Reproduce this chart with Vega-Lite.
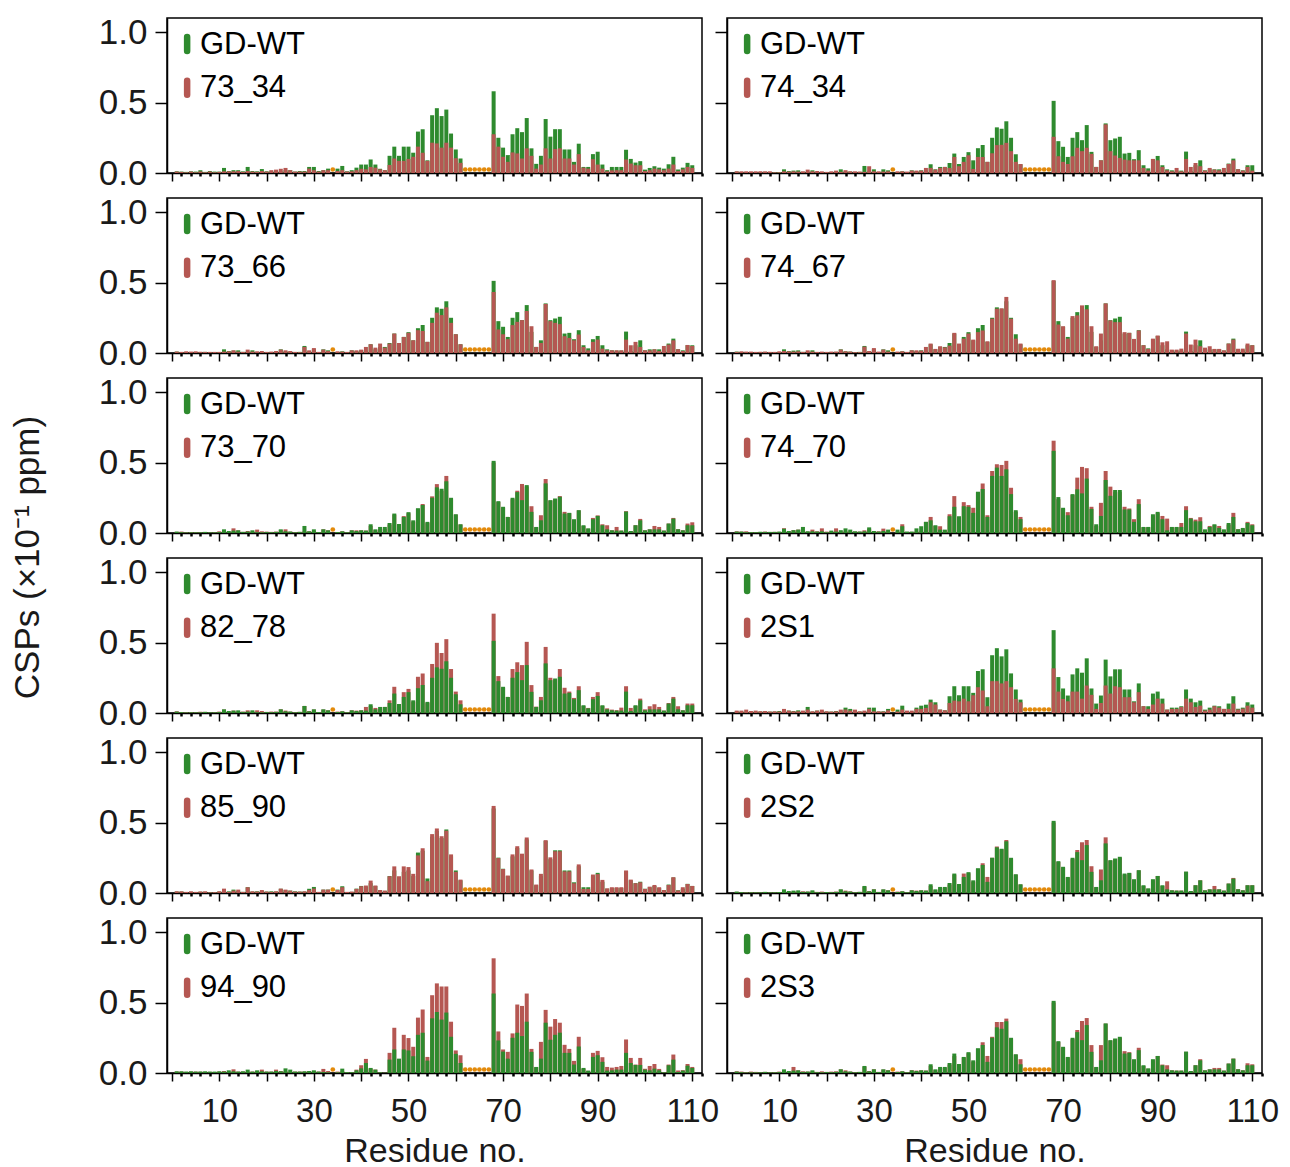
{
"$schema": "https://vega.github.io/schema/vega-lite/v6.json",
"padding": {"left": 10, "top": 14, "right": 5, "bottom": 0},
"title": {"text": "CSPs (×10⁻¹ ppm)", "orient": "left", "anchor": "middle", "offset": 52, "dx": 34, "fontSize": 35, "font": "Liberation Sans", "fontWeight": "normal", "color": "#1a1a1a"},
"datasets": {
"gaps": [{"r":34},{"r":62},{"r":63},{"r":64},{"r":65},{"r":66},{"r":67}],
"d": [
{"r":1,"g":0.01,"g1":0.012,"c1":0.01,"c2":0.012,"c3":0.01,"c4":0.008,"c5":0.008,"g6":0.01,"c6":0.012,"c7":0.012,"g8":0.012,"c8":0.017,"g9":0.01,"c9":0.012,"c10":0.008,"g11":0.012,"c11":0.01,"c12":0.012},
{"r":2,"g":0.006,"g1":0.01,"c1":0.008,"c2":0.012,"c3":0.008,"c4":0.012,"c5":0.01,"g6":0.01,"c6":0.01,"c7":0.006,"g8":0.01,"c8":0.017,"g9":0.01,"c9":0.012,"c10":0.005,"g11":0.012,"c11":0.01,"c12":0.01},
{"r":3,"g":0.004,"g1":0.008,"c1":0.005,"c2":0.012,"c3":0.012,"c4":0.01,"c5":0.005,"g6":0.006,"c6":0.012,"c7":0.005,"g8":0.01,"c8":0.024,"g9":0.005,"c9":0.008,"c10":0.005,"g11":0.01,"c11":0.008,"c12":0.006},
{"r":4,"g":0.005,"g1":0.012,"c1":0.01,"c2":0.012,"c3":0.01,"c4":0.01,"c5":0.006,"g6":0.006,"c6":0.006,"c7":0.006,"g8":0.01,"c8":0.014,"g9":0.008,"c9":0.012,"c10":0.006,"g11":0.012,"c11":0.01,"c12":0.01},
{"r":5,"g":0.005,"g1":0.01,"c1":0.005,"c2":0.012,"c3":0.012,"c4":0.008,"c5":0.005,"g6":0.006,"c6":0.006,"c7":0.005,"g8":0.01,"c8":0.017,"g9":0.006,"c9":0.008,"c10":0.005,"g11":0.01,"c11":0.01,"c12":0.008},
{"r":6,"g":0.005,"g1":0.02,"c1":0.01,"c2":0.012,"c3":0.008,"c4":0.008,"c5":0.006,"g6":0.008,"c6":0.006,"c7":0.008,"g8":0.01,"c8":0.012,"g9":0.008,"c9":0.01,"c10":0.006,"g11":0.01,"c11":0.008,"c12":0.006},
{"r":7,"g":0.008,"g1":0.008,"c1":0.005,"c2":0.012,"c3":0.008,"c4":0.01,"c5":0.006,"g6":0.008,"c6":0.01,"c7":0.008,"g8":0.012,"c8":0.014,"g9":0.008,"c9":0.012,"c10":0.006,"g11":0.012,"c11":0.008,"c12":0.008},
{"r":8,"g":0.005,"g1":0.014,"c1":0.01,"c2":0.012,"c3":0.008,"c4":0.008,"c5":0.005,"g6":0.008,"c6":0.005,"c7":0.004,"g8":0.01,"c8":0.01,"g9":0.006,"c9":0.005,"c10":0.005,"g11":0.01,"c11":0.008,"c12":0.006},
{"r":9,"g":0.005,"g1":0.01,"c1":0.005,"c2":0.005,"c3":0.008,"c4":0.008,"c5":0.005,"g6":0.008,"c6":0.008,"c7":0.005,"g8":0.01,"c8":0.012,"g9":0.005,"c9":0.006,"c10":0.004,"g11":0.01,"c11":0.006,"c12":0.006},
{"r":10,"g":0.007,"g1":0.01,"c1":0.008,"c2":0.005,"c3":0.008,"c4":0.012,"c5":0.012,"g6":0.01,"c6":0.008,"c7":0.01,"g8":0.014,"c8":0.01,"g9":0.01,"c9":0.012,"c10":0.006,"g11":0.012,"c11":0.01,"c12":0.01},
{"r":11,"g":0.026,"g1":0.036,"c1":0.012,"c2":0.012,"c3":0.01,"c4":0.014,"c5":0.014,"g6":0.03,"c6":0.034,"c7":0.024,"g8":0.02,"c8":0.029,"g9":0.026,"c9":0.031,"c10":0.012,"g11":0.01,"c11":0.014,"c12":0.012},
{"r":12,"g":0.014,"g1":0.014,"c1":0.012,"c2":0.01,"c3":0.012,"c4":0.012,"c5":0.008,"g6":0.014,"c6":0.012,"c7":0.01,"g8":0.017,"c8":0.017,"g9":0.012,"c9":0.008,"c10":0.008,"g11":0.019,"c11":0.01,"c12":0.01},
{"r":13,"g":0.017,"g1":0.02,"c1":0.012,"c2":0.012,"c3":0.019,"c4":0.01,"c5":0.033,"g6":0.02,"c6":0.02,"c7":0.017,"g8":0.014,"c8":0.012,"g9":0.024,"c9":0.017,"c10":0.012,"g11":0.012,"c11":0.026,"c12":0.043},
{"r":14,"g":0.019,"g1":0.02,"c1":0.014,"c2":0.01,"c3":0.01,"c4":0.012,"c5":0.019,"g6":0.024,"c6":0.024,"c7":0.01,"g8":0.019,"c8":0.012,"g9":0.014,"c9":0.024,"c10":0.01,"g11":0.01,"c11":0.01,"c12":0.019},
{"r":15,"g":0.008,"g1":0.012,"c1":0.008,"c2":0.012,"c3":0.008,"c4":0.008,"c5":0.008,"g6":0.043,"c6":0.02,"c7":0.01,"g8":0.01,"c8":0.017,"g9":0.008,"c9":0.008,"c10":0.012,"g11":0.012,"c11":0.01,"c12":0.012},
{"r":16,"g":0.01,"g1":0.043,"c1":0.014,"c2":0.024,"c3":0.024,"c4":0.019,"c5":0.014,"g6":0.012,"c6":0.01,"c7":0.019,"g8":0.043,"c8":0.024,"g9":0.041,"c9":0.041,"c10":0.01,"g11":0.024,"c11":0.01,"c12":0.01},
{"r":17,"g":0.019,"g1":0.014,"c1":0.01,"c2":0.012,"c3":0.01,"c4":0.01,"c5":0.01,"g6":0.012,"c6":0.024,"c7":0.01,"g8":0.01,"c8":0.012,"g9":0.01,"c9":0.012,"c10":0.012,"g11":0.01,"c11":0.01,"c12":0.012},
{"r":18,"g":0.006,"g1":0.012,"c1":0.008,"c2":0.014,"c3":0.012,"c4":0.008,"c5":0.024,"g6":0.01,"c6":0.012,"c7":0.019,"g8":0.017,"c8":0.017,"g9":0.012,"c9":0.01,"c10":0.008,"g11":0.019,"c11":0.014,"c12":0.008},
{"r":19,"g":0.005,"g1":0.028,"c1":0.014,"c2":0.012,"c3":0.014,"c4":0.01,"c5":0.012,"g6":0.012,"c6":0.033,"c7":0.014,"g8":0.014,"c8":0.024,"g9":0.015,"c9":0.021,"c10":0.01,"g11":0.012,"c11":0.024,"c12":0.012},
{"r":20,"g":0.007,"g1":0.012,"c1":0.01,"c2":0.008,"c3":0.008,"c4":0.008,"c5":0.01,"g6":0.006,"c6":0.01,"c7":0.008,"g8":0.01,"c8":0.012,"g9":0.01,"c9":0.01,"c10":0.006,"g11":0.01,"c11":0.01,"c12":0.008},
{"r":21,"g":0.006,"g1":0.012,"c1":0.02,"c2":0.012,"c3":0.01,"c4":0.01,"c5":0.008,"g6":0.017,"c6":0.012,"c7":0.01,"g8":0.01,"c8":0.01,"g9":0.012,"c9":0.008,"c10":0.008,"g11":0.01,"c11":0.01,"c12":0.01},
{"r":22,"g":0.008,"g1":0.014,"c1":0.024,"c2":0.017,"c3":0.014,"c4":0.01,"c5":0.01,"g6":0.01,"c6":0.033,"c7":0.01,"g8":0.014,"c8":0.012,"g9":0.01,"c9":0.012,"c10":0.01,"g11":0.014,"c11":0.024,"c12":0.012},
{"r":23,"g":0.026,"g1":0.012,"c1":0.03,"c2":0.008,"c3":0.024,"c4":0.024,"c5":0.02,"g6":0.02,"c6":0.012,"c7":0.026,"g8":0.017,"c8":0.024,"g9":0.03,"c9":0.031,"c10":0.024,"g11":0.012,"c11":0.014,"c12":0.026},
{"r":24,"g":0.012,"g1":0.02,"c1":0.036,"c2":0.02,"c3":0.019,"c4":0.012,"c5":0.026,"g6":0.033,"c6":0.012,"c7":0.017,"g8":0.038,"c8":0.024,"g9":0.02,"c9":0.024,"c10":0.017,"g11":0.033,"c11":0.012,"c12":0.019},
{"r":25,"g":0.01,"g1":0.02,"c1":0.02,"c2":0.012,"c3":0.014,"c4":0.01,"c5":0.01,"g6":0.024,"c6":0.012,"c7":0.01,"g8":0.029,"c8":0.017,"g9":0.017,"c9":0.017,"c10":0.012,"g11":0.024,"c11":0.01,"c12":0.01},
{"r":26,"g":0.005,"g1":0.01,"c1":0.01,"c2":0.012,"c3":0.008,"c4":0.006,"c5":0.006,"g6":0.012,"c6":0.01,"c7":0.006,"g8":0.01,"c8":0.024,"g9":0.012,"c9":0.01,"c10":0.006,"g11":0.01,"c11":0.01,"c12":0.006},
{"r":27,"g":0.008,"g1":0.014,"c1":0.01,"c2":0.01,"c3":0.006,"c4":0.006,"c5":0.008,"g6":0.01,"c6":0.01,"c7":0.008,"g8":0.01,"c8":0.012,"g9":0.01,"c9":0.01,"c10":0.008,"g11":0.01,"c11":0.01,"c12":0.006},
{"r":28,"g":0.05,"g1":0.014,"c1":0.01,"c2":0.008,"c3":0.043,"c4":0.045,"c5":0.012,"g6":0.012,"c6":0.019,"c7":0.05,"g8":0.01,"c8":0.017,"g9":0.01,"c9":0.012,"c10":0.045,"g11":0.012,"c11":0.01,"c12":0.045},
{"r":29,"g":0.012,"g1":0.043,"c1":0.031,"c2":0.048,"c3":0.019,"c4":0.014,"c5":0.012,"g6":0.04,"c6":0.03,"c7":0.014,"g8":0.038,"c8":0.029,"g9":0.03,"c9":0.021,"c10":0.014,"g11":0.014,"c11":0.014,"c12":0.014},
{"r":30,"g":0.026,"g1":0.043,"c1":0.02,"c2":0.012,"c3":0.035,"c4":0.035,"c5":0.014,"g6":0.014,"c6":0.012,"c7":0.024,"g8":0.038,"c8":0.012,"g9":0.043,"c9":0.031,"c10":0.026,"g11":0.019,"c11":0.012,"c12":0.026},
{"r":31,"g":0.007,"g1":0.014,"c1":0.01,"c2":0.012,"c3":0.008,"c4":0.01,"c5":0.007,"g6":0.01,"c6":0.012,"c7":0.007,"g8":0.01,"c8":0.012,"g9":0.007,"c9":0.008,"c10":0.008,"g11":0.01,"c11":0.01,"c12":0.008},
{"r":32,"g":0.026,"g1":0.02,"c1":0.02,"c2":0.01,"c3":0.024,"c4":0.024,"c5":0.026,"g6":0.014,"c6":0.031,"c7":0.024,"g8":0.012,"c8":0.01,"g9":0.024,"c9":0.024,"c10":0.024,"g11":0.007,"c11":0.029,"c12":0.024},
{"r":33,"g":0.019,"g1":0.031,"c1":0.02,"c2":0.012,"c3":0.014,"c4":0.01,"c5":0.019,"g6":0.024,"c6":0.012,"c7":0.019,"g8":0.029,"c8":0.019,"g9":0.024,"c9":0.024,"c10":0.019,"g11":0.005,"c11":0.014,"c12":0.02},
{"r":35,"g":0.007,"g1":0.031,"c1":0.014,"c2":0.012,"c3":0.012,"c4":0.01,"c5":0.007,"g6":0.024,"c6":0.01,"c7":0.01,"g8":0.024,"c8":0.01,"g9":0.024,"c9":0.022,"c10":0.01,"g11":0.005,"c11":0.01,"c12":0.01},
{"r":36,"g":0.012,"g1":0.05,"c1":0.02,"c2":0.012,"c3":0.01,"c4":0.012,"c5":0.012,"g6":0.048,"c6":0.062,"c7":0.012,"g8":0.052,"c8":0.024,"g9":0.048,"c9":0.041,"c10":0.012,"g11":0.031,"c11":0.012,"c12":0.012},
{"r":37,"g":0.005,"g1":0.012,"c1":0.01,"c2":0.01,"c3":0.008,"c4":0.008,"c5":0.005,"g6":0.01,"c6":0.008,"c7":0.006,"g8":0.01,"c8":0.017,"g9":0.006,"c9":0.008,"c10":0.005,"g11":0.006,"c11":0.006,"c12":0.006},
{"r":38,"g":0.019,"g1":0.02,"c1":0.012,"c2":0.017,"c3":0.019,"c4":0.019,"c5":0.019,"g6":0.01,"c6":0.008,"c7":0.019,"g8":0.01,"c8":0.017,"g9":0.008,"c9":0.01,"c10":0.02,"g11":0.006,"c11":0.006,"c12":0.02},
{"r":39,"g":0.014,"g1":0.038,"c1":0.02,"c2":0.017,"c3":0.019,"c4":0.019,"c5":0.019,"g6":0.033,"c6":0.01,"c7":0.017,"g8":0.038,"c8":0.029,"g9":0.031,"c9":0.029,"c10":0.017,"g11":0.019,"c11":0.024,"c12":0.017},
{"r":40,"g":0.019,"g1":0.06,"c1":0.03,"c2":0.017,"c3":0.024,"c4":0.017,"c5":0.019,"g6":0.048,"c6":0.012,"c7":0.019,"g8":0.052,"c8":0.029,"g9":0.05,"c9":0.048,"c10":0.019,"g11":0.033,"c11":0.055,"c12":0.019},
{"r":41,"g":0.017,"g1":0.06,"c1":0.026,"c2":0.036,"c3":0.043,"c4":0.043,"c5":0.017,"g6":0.079,"c6":0.079,"c7":0.043,"g8":0.059,"c8":0.036,"g9":0.045,"c9":0.053,"c10":0.017,"g11":0.071,"c11":0.1,"c12":0.017},
{"r":42,"g":0.062,"g1":0.096,"c1":0.043,"c2":0.036,"c3":0.062,"c4":0.067,"c5":0.05,"g6":0.09,"c6":0.114,"c7":0.05,"g8":0.095,"c8":0.076,"g9":0.07,"c9":0.088,"c10":0.05,"g11":0.036,"c11":0.03,"c12":0.05},
{"r":43,"g":0.026,"g1":0.06,"c1":0.038,"c2":0.024,"c3":0.038,"c4":0.029,"c5":0.02,"g6":0.055,"c6":0.05,"c7":0.036,"g8":0.076,"c8":0.06,"g9":0.05,"c9":0.053,"c10":0.02,"g11":0.024,"c11":0.024,"c12":0.02},
{"r":44,"g":0.043,"g1":0.03,"c1":0.026,"c2":0.036,"c3":0.067,"c4":0.048,"c5":0.03,"g6":0.024,"c6":0.048,"c7":0.03,"g8":0.024,"c8":0.024,"g9":0.02,"c9":0.021,"c10":0.035,"g11":0.005,"c11":0.005,"c12":0.035},
{"r":45,"g":0.043,"g1":0.02,"c1":0.02,"c2":0.043,"c3":0.038,"c4":0.04,"c5":0.03,"g6":0.024,"c6":0.02,"c7":0.043,"g8":0.019,"c8":0.019,"g9":0.015,"c9":0.017,"c10":0.035,"g11":0.002,"c11":0.002,"c12":0.035},
{"r":46,"g":0.071,"g1":0.122,"c1":0.057,"c2":0.036,"c3":0.067,"c4":0.052,"c5":0.06,"g6":0.119,"c6":0.133,"c7":0.09,"g8":0.119,"c8":0.071,"g9":0.12,"c9":0.119,"c10":0.06,"g11":0.095,"c11":0.143,"c12":0.06},
{"r":47,"g":0.138,"g1":0.187,"c1":0.103,"c2":0.114,"c3":0.138,"c4":0.143,"c5":0.13,"g6":0.186,"c6":0.262,"c7":0.186,"g8":0.19,"c8":0.088,"g9":0.16,"c9":0.189,"c10":0.13,"g11":0.167,"c11":0.321,"c12":0.12},
{"r":48,"g":0.064,"g1":0.122,"c1":0.086,"c2":0.048,"c3":0.071,"c4":0.067,"c5":0.05,"g6":0.119,"c6":0.1,"c7":0.05,"g8":0.126,"c8":0.083,"g9":0.11,"c9":0.119,"c10":0.05,"g11":0.102,"c11":0.09,"c12":0.05},
{"r":49,"g":0.114,"g1":0.187,"c1":0.086,"c2":0.079,"c3":0.114,"c4":0.102,"c5":0.12,"g6":0.19,"c6":0.219,"c7":0.148,"g8":0.19,"c8":0.102,"g9":0.15,"c9":0.189,"c10":0.138,"g11":0.167,"c11":0.271,"c12":0.11},
{"r":50,"g":0.148,"g1":0.187,"c1":0.1,"c2":0.126,"c3":0.143,"c4":0.138,"c5":0.14,"g6":0.186,"c6":0.198,"c7":0.171,"g8":0.19,"c8":0.083,"g9":0.16,"c9":0.184,"c10":0.14,"g11":0.16,"c11":0.248,"c12":0.14},
{"r":51,"g":0.09,"g1":0.144,"c1":0.115,"c2":0.029,"c3":0.09,"c4":0.095,"c5":0.08,"g6":0.143,"c6":0.179,"c7":0.08,"g8":0.143,"c8":0.126,"g9":0.12,"c9":0.136,"c10":0.08,"g11":0.119,"c11":0.186,"c12":0.08},
{"r":52,"g":0.176,"g1":0.294,"c1":0.187,"c2":0.114,"c3":0.162,"c4":0.148,"c5":0.17,"g6":0.293,"c6":0.29,"c7":0.257,"g8":0.298,"c8":0.183,"g9":0.287,"c9":0.267,"c10":0.17,"g11":0.271,"c11":0.393,"c12":0.17},
{"r":53,"g":0.198,"g1":0.311,"c1":0.144,"c2":0.114,"c3":0.157,"c4":0.16,"c5":0.205,"g6":0.312,"c6":0.352,"c7":0.281,"g8":0.31,"c8":0.16,"g9":0.3,"c9":0.317,"c10":0.212,"g11":0.286,"c11":0.45,"c12":0.219},
{"r":54,"g":0.079,"g1":0.09,"c1":0.086,"c2":0.079,"c3":0.079,"c4":0.083,"c5":0.07,"g6":0.114,"c6":0.126,"c7":0.07,"g8":0.112,"c8":0.048,"g9":0.103,"c9":0.084,"c10":0.114,"g11":0.088,"c11":0.114,"c12":0.121},
{"r":55,"g":0.25,"g1":0.41,"c1":0.215,"c2":0.14,"c3":0.214,"c4":0.243,"c5":0.26,"g6":0.405,"c6":0.44,"c7":0.348,"g8":0.41,"c8":0.226,"g9":0.4,"c9":0.418,"c10":0.25,"g11":0.388,"c11":0.552,"c12":0.257},
{"r":56,"g":0.324,"g1":0.46,"c1":0.21,"c2":0.198,"c3":0.286,"c4":0.314,"c5":0.347,"g6":0.464,"c6":0.488,"c7":0.498,"g8":0.46,"c8":0.226,"g9":0.44,"c9":0.458,"c10":0.33,"g11":0.433,"c11":0.636,"c12":0.362},
{"r":57,"g":0.314,"g1":0.404,"c1":0.18,"c2":0.2,"c3":0.269,"c4":0.317,"c5":0.3,"g6":0.405,"c6":0.483,"c7":0.426,"g8":0.402,"c8":0.21,"g9":0.39,"c9":0.403,"c10":0.31,"g11":0.379,"c11":0.614,"c12":0.362},
{"r":58,"g":0.367,"g1":0.45,"c1":0.215,"c2":0.214,"c3":0.324,"c4":0.398,"c5":0.405,"g6":0.452,"c6":0.512,"c7":0.524,"g8":0.452,"c8":0.226,"g9":0.451,"c9":0.442,"c10":0.376,"g11":0.429,"c11":0.614,"c12":0.386},
{"r":59,"g":0.25,"g1":0.28,"c1":0.18,"c2":0.155,"c3":0.214,"c4":0.243,"c5":0.24,"g6":0.276,"c6":0.321,"c7":0.312,"g8":0.281,"c8":0.183,"g9":0.26,"c9":0.274,"c10":0.24,"g11":0.257,"c11":0.364,"c12":0.24},
{"r":60,"g":0.133,"g1":0.167,"c1":0.105,"c2":0.079,"c3":0.133,"c4":0.102,"c5":0.13,"g6":0.162,"c6":0.15,"c7":0.152,"g8":0.167,"c8":0.1,"g9":0.16,"c9":0.15,"c10":0.13,"g11":0.136,"c11":0.16,"c12":0.13},
{"r":61,"g":0.062,"g1":0.103,"c1":0.072,"c2":0.064,"c3":0.062,"c4":0.067,"c5":0.06,"g6":0.098,"c6":0.114,"c7":0.09,"g8":0.095,"c8":0.076,"g9":0.09,"c9":0.095,"c10":0.06,"g11":0.071,"c11":0.126,"c12":0.098},
{"r":68,"g":0.512,"g1":0.58,"c1":0.275,"c2":0.257,"c3":0.433,"c4":0.517,"c5":0.5,"g6":0.583,"c6":0.655,"c7":0.705,"g8":0.588,"c8":0.317,"g9":0.6,"c9":0.618,"c10":0.5,"g11":0.564,"c11":0.814,"c12":0.5},
{"r":69,"g":0.226,"g1":0.25,"c1":0.187,"c2":0.119,"c3":0.167,"c4":0.202,"c5":0.22,"g6":0.255,"c6":0.24,"c7":0.262,"g8":0.255,"c8":0.152,"g9":0.251,"c9":0.248,"c10":0.22,"g11":0.231,"c11":0.295,"c12":0.22},
{"r":70,"g":0.186,"g1":0.18,"c1":0.115,"c2":0.079,"c3":0.133,"c4":0.19,"c5":0.18,"g6":0.179,"c6":0.17,"c7":0.18,"g8":0.174,"c8":0.1,"g9":0.172,"c9":0.17,"c10":0.18,"g11":0.152,"c11":0.167,"c12":0.18},
{"r":71,"g":0.114,"g1":0.127,"c1":0.079,"c2":0.064,"c3":0.098,"c4":0.102,"c5":0.114,"g6":0.126,"c6":0.148,"c7":0.114,"g8":0.124,"c8":0.083,"g9":0.12,"c9":0.124,"c10":0.11,"g11":0.102,"c11":0.15,"c12":0.11},
{"r":72,"g":0.25,"g1":0.275,"c1":0.146,"c2":0.119,"c3":0.198,"c4":0.262,"c5":0.24,"g6":0.276,"c6":0.27,"c7":0.312,"g8":0.274,"c8":0.152,"g9":0.26,"c9":0.274,"c10":0.24,"g11":0.25,"c11":0.281,"c12":0.24},
{"r":73,"g":0.29,"g1":0.318,"c1":0.139,"c2":0.179,"c3":0.221,"c4":0.267,"c5":0.3,"g6":0.31,"c6":0.393,"c7":0.36,"g8":0.317,"c8":0.152,"g9":0.32,"c9":0.332,"c10":0.305,"g11":0.286,"c11":0.486,"c12":0.305},
{"r":74,"g":0.233,"g1":0.29,"c1":0.103,"c2":0.155,"c3":0.233,"c4":0.338,"c5":0.348,"g6":0.281,"c6":0.469,"c7":0.34,"g8":0.286,"c8":0.102,"g9":0.27,"c9":0.279,"c10":0.36,"g11":0.262,"c11":0.476,"c12":0.369},
{"r":75,"g":0.34,"g1":0.39,"c1":0.175,"c2":0.179,"c3":0.298,"c4":0.31,"c5":0.33,"g6":0.386,"c6":0.46,"c7":0.505,"g8":0.388,"c8":0.195,"g9":0.38,"c9":0.394,"c10":0.376,"g11":0.364,"c11":0.564,"c12":0.39},
{"r":76,"g":0.15,"g1":0.175,"c1":0.122,"c2":0.136,"c3":0.19,"c4":0.19,"c5":0.19,"g6":0.171,"c6":0.186,"c7":0.198,"g8":0.174,"c8":0.129,"g9":0.16,"c9":0.167,"c10":0.19,"g11":0.15,"c11":0.171,"c12":0.198},
{"r":77,"g":0.043,"g1":0.065,"c1":0.031,"c2":0.043,"c3":0.043,"c4":0.048,"c5":0.04,"g6":0.062,"c6":0.05,"c7":0.045,"g8":0.067,"c8":0.029,"g9":0.055,"c9":0.06,"c10":0.04,"g11":0.043,"c11":0.04,"c12":0.04},
{"r":78,"g":0.09,"g1":0.122,"c1":0.06,"c2":0.09,"c3":0.071,"c4":0.138,"c5":0.126,"g6":0.121,"c6":0.214,"c7":0.114,"g8":0.124,"c8":0.071,"g9":0.12,"c9":0.136,"c10":0.167,"g11":0.102,"c11":0.221,"c12":0.198},
{"r":79,"g":0.352,"g1":0.383,"c1":0.175,"c2":0.345,"c3":0.348,"c4":0.352,"c5":0.383,"g6":0.376,"c6":0.44,"c7":0.469,"g8":0.379,"c8":0.195,"g9":0.37,"c9":0.375,"c10":0.395,"g11":0.357,"c11":0.448,"c12":0.35},
{"r":80,"g":0.233,"g1":0.258,"c1":0.103,"c2":0.155,"c3":0.226,"c4":0.231,"c5":0.23,"g6":0.264,"c6":0.329,"c7":0.25,"g8":0.26,"c8":0.138,"g9":0.24,"c9":0.253,"c10":0.23,"g11":0.236,"c11":0.329,"c12":0.23},
{"r":81,"g":0.245,"g1":0.311,"c1":0.17,"c2":0.124,"c3":0.214,"c4":0.219,"c5":0.24,"g6":0.305,"c6":0.29,"c7":0.233,"g8":0.31,"c8":0.19,"g9":0.303,"c9":0.296,"c10":0.24,"g11":0.271,"c11":0.383,"c12":0.24},
{"r":82,"g":0.257,"g1":0.311,"c1":0.175,"c2":0.107,"c3":0.205,"c4":0.219,"c5":0.262,"g6":0.305,"c6":0.29,"c7":0.312,"g8":0.31,"c8":0.183,"g9":0.303,"c9":0.296,"c10":0.25,"g11":0.286,"c11":0.357,"c12":0.25},
{"r":83,"g":0.138,"g1":0.167,"c1":0.103,"c2":0.095,"c3":0.119,"c4":0.148,"c5":0.15,"g6":0.167,"c6":0.186,"c7":0.179,"g8":0.167,"c8":0.112,"g9":0.16,"c9":0.153,"c10":0.13,"g11":0.143,"c11":0.2,"c12":0.155},
{"r":84,"g":0.143,"g1":0.167,"c1":0.103,"c2":0.09,"c3":0.107,"c4":0.143,"c5":0.14,"g6":0.167,"c6":0.174,"c7":0.152,"g8":0.167,"c8":0.112,"g9":0.16,"c9":0.153,"c10":0.14,"g11":0.143,"c11":0.171,"c12":0.148},
{"r":85,"g":0.098,"g1":0.079,"c1":0.06,"c2":0.09,"c3":0.09,"c4":0.1,"c5":0.09,"g6":0.079,"c6":0.098,"c7":0.107,"g8":0.083,"c8":0.076,"g9":0.076,"c9":0.069,"c10":0.09,"g11":0.06,"c11":0.086,"c12":0.09},
{"r":86,"g":0.162,"g1":0.208,"c1":0.134,"c2":0.09,"c3":0.131,"c4":0.16,"c5":0.16,"g6":0.205,"c6":0.24,"c7":0.19,"g8":0.21,"c8":0.148,"g9":0.19,"c9":0.203,"c10":0.16,"g11":0.188,"c11":0.257,"c12":0.179},
{"r":87,"g":0.055,"g1":0.043,"c1":0.038,"c2":0.036,"c3":0.043,"c4":0.055,"c5":0.05,"g6":0.043,"c6":0.04,"c7":0.05,"g8":0.048,"c8":0.048,"g9":0.041,"c9":0.029,"c10":0.05,"g11":0.036,"c11":0.03,"c12":0.05},
{"r":88,"g":0.033,"g1":0.043,"c1":0.031,"c2":0.017,"c3":0.019,"c4":0.029,"c5":0.03,"g6":0.043,"c6":0.04,"c7":0.036,"g8":0.048,"c8":0.029,"g9":0.041,"c9":0.029,"c10":0.03,"g11":0.017,"c11":0.015,"c12":0.03},
{"r":89,"g":0.098,"g1":0.134,"c1":0.098,"c2":0.1,"c3":0.079,"c4":0.102,"c5":0.107,"g6":0.133,"c6":0.12,"c7":0.114,"g8":0.138,"c8":0.06,"g9":0.12,"c9":0.131,"c10":0.09,"g11":0.114,"c11":0.143,"c12":0.09},
{"r":90,"g":0.121,"g1":0.151,"c1":0.06,"c2":0.09,"c3":0.095,"c4":0.124,"c5":0.125,"g6":0.15,"c6":0.14,"c7":0.148,"g8":0.152,"c8":0.102,"g9":0.143,"c9":0.134,"c10":0.12,"g11":0.126,"c11":0.157,"c12":0.12},
{"r":91,"g":0.055,"g1":0.06,"c1":0.031,"c2":0.043,"c3":0.031,"c4":0.076,"c5":0.062,"g6":0.098,"c6":0.121,"c7":0.05,"g8":0.102,"c8":0.067,"g9":0.08,"c9":0.093,"c10":0.05,"g11":0.079,"c11":0.112,"c12":0.06},
{"r":92,"g":0.026,"g1":0.02,"c1":0.012,"c2":0.019,"c3":0.019,"c4":0.083,"c5":0.055,"g6":0.019,"c6":0.102,"c7":0.033,"g8":0.024,"c8":0.024,"g9":0.03,"c9":0.033,"c10":0.083,"g11":0.017,"c11":0.043,"c12":0.055},
{"r":93,"g":0.019,"g1":0.043,"c1":0.019,"c2":0.012,"c3":0.019,"c4":0.024,"c5":0.019,"g6":0.043,"c6":0.04,"c7":0.024,"g8":0.038,"c8":0.029,"g9":0.035,"c9":0.041,"c10":0.019,"g11":0.019,"c11":0.038,"c12":0.019},
{"r":94,"g":0.017,"g1":0.043,"c1":0.02,"c2":0.036,"c3":0.019,"c4":0.024,"c5":0.043,"g6":0.043,"c6":0.04,"c7":0.02,"g8":0.038,"c8":0.029,"g9":0.035,"c9":0.041,"c10":0.017,"g11":0.024,"c11":0.043,"c12":0.017},
{"r":95,"g":0.017,"g1":0.043,"c1":0.02,"c2":0.012,"c3":0.019,"c4":0.031,"c5":0.017,"g6":0.043,"c6":0.071,"c7":0.038,"g8":0.048,"c8":0.043,"g9":0.035,"c9":0.041,"c10":0.017,"g11":0.024,"c11":0.05,"c12":0.017},
{"r":96,"g":0.152,"g1":0.165,"c1":0.096,"c2":0.1,"c3":0.095,"c4":0.138,"c5":0.155,"g6":0.162,"c6":0.19,"c7":0.19,"g8":0.167,"c8":0.102,"g9":0.155,"c9":0.16,"c10":0.15,"g11":0.143,"c11":0.238,"c12":0.15},
{"r":97,"g":0.014,"g1":0.1,"c1":0.067,"c2":0.043,"c3":0.055,"c4":0.06,"c5":0.014,"g6":0.102,"c6":0.107,"c7":0.036,"g8":0.102,"c8":0.076,"g9":0.09,"c9":0.095,"c10":0.014,"g11":0.071,"c11":0.107,"c12":0.014},
{"r":98,"g":0.055,"g1":0.074,"c1":0.055,"c2":0.071,"c3":0.079,"c4":0.095,"c5":0.055,"g6":0.083,"c6":0.095,"c7":0.05,"g8":0.076,"c8":0.043,"g9":0.07,"c9":0.069,"c10":0.055,"g11":0.057,"c11":0.06,"c12":0.055},
{"r":99,"g":0.09,"g1":0.084,"c1":0.055,"c2":0.048,"c3":0.043,"c4":0.048,"c5":0.1,"g6":0.083,"c6":0.112,"c7":0.102,"g8":0.088,"c8":0.052,"g9":0.08,"c9":0.076,"c10":0.09,"g11":0.057,"c11":0.107,"c12":0.098},
{"r":100,"g":0.019,"g1":0.024,"c1":0.014,"c2":0.017,"c3":0.019,"c4":0.038,"c5":0.019,"g6":0.026,"c6":0.02,"c7":0.026,"g8":0.024,"c8":0.017,"g9":0.03,"c9":0.029,"c10":0.019,"g11":0.024,"c11":0.03,"c12":0.019},
{"r":101,"g":0.026,"g1":0.036,"c1":0.02,"c2":0.036,"c3":0.019,"c4":0.048,"c5":0.026,"g6":0.043,"c6":0.05,"c7":0.048,"g8":0.038,"c8":0.024,"g9":0.04,"c9":0.045,"c10":0.026,"g11":0.019,"c11":0.05,"c12":0.026},
{"r":102,"g":0.026,"g1":0.048,"c1":0.031,"c2":0.024,"c3":0.026,"c4":0.029,"c5":0.05,"g6":0.062,"c6":0.055,"c7":0.062,"g8":0.052,"c8":0.048,"g9":0.05,"c9":0.057,"c10":0.05,"g11":0.031,"c11":0.064,"c12":0.036},
{"r":103,"g":0.026,"g1":0.038,"c1":0.026,"c2":0.019,"c3":0.014,"c4":0.029,"c5":0.043,"g6":0.036,"c6":0.05,"c7":0.043,"g8":0.048,"c8":0.038,"g9":0.035,"c9":0.041,"c10":0.026,"g11":0.019,"c11":0.029,"c12":0.036},
{"r":104,"g":0.017,"g1":0.031,"c1":0.02,"c2":0.036,"c3":0.05,"c4":0.019,"c5":0.017,"g6":0.026,"c6":0.02,"c7":0.017,"g8":0.029,"c8":0.029,"g9":0.02,"c9":0.021,"c10":0.017,"g11":0.005,"c11":0.005,"c12":0.017},
{"r":105,"g":0.067,"g1":0.062,"c1":0.031,"c2":0.064,"c3":0.06,"c4":0.067,"c5":0.067,"g6":0.071,"c6":0.06,"c7":0.071,"g8":0.067,"c8":0.029,"g9":0.06,"c9":0.057,"c10":0.067,"g11":0.055,"c11":0.06,"c12":0.067},
{"r":106,"g":0.102,"g1":0.115,"c1":0.06,"c2":0.09,"c3":0.09,"c4":0.095,"c5":0.107,"g6":0.114,"c6":0.143,"c7":0.114,"g8":0.119,"c8":0.067,"g9":0.11,"c9":0.112,"c10":0.107,"g11":0.095,"c11":0.131,"c12":0.102},
{"r":107,"g":0.026,"g1":0.024,"c1":0.014,"c2":0.026,"c3":0.026,"c4":0.031,"c5":0.026,"g6":0.026,"c6":0.026,"c7":0.048,"g8":0.031,"c8":0.024,"g9":0.02,"c9":0.017,"c10":0.026,"g11":0.007,"c11":0.017,"c12":0.026},
{"r":108,"g":0.019,"g1":0.038,"c1":0.026,"c2":0.017,"c3":0.014,"c4":0.031,"c5":0.019,"g6":0.036,"c6":0.03,"c7":0.019,"g8":0.038,"c8":0.031,"g9":0.03,"c9":0.041,"c10":0.019,"g11":0.017,"c11":0.02,"c12":0.019},
{"r":109,"g":0.055,"g1":0.072,"c1":0.043,"c2":0.043,"c3":0.057,"c4":0.067,"c5":0.067,"g6":0.071,"c6":0.079,"c7":0.067,"g8":0.076,"c8":0.052,"g9":0.065,"c9":0.064,"c10":0.055,"g11":0.052,"c11":0.064,"c12":0.069},
{"r":110,"g":0.055,"g1":0.055,"c1":0.036,"c2":0.017,"c3":0.05,"c4":0.055,"c5":0.076,"g6":0.055,"c6":0.062,"c7":0.067,"g8":0.06,"c8":0.038,"g9":0.05,"c9":0.05,"c10":0.055,"g11":0.036,"c11":0.043,"c12":0.062}
]
},
"spacing": 2,
"vconcat": [
{"hconcat": [
{"width": 535, "height": 155, "data": {"name": "d"}, "layer": [
 {"mark": {"type": "bar", "orient": "vertical", "width": 4, "color": "#2e8a2e"}, "encoding": {"x": {"field": "r", "type": "quantitative", "title": null, "scale": {"domain": [0, 111], "nice": false, "zero": false}, "axis": {"tickCount": 56, "labels": false, "title": null, "tickSize": {"condition": {"test": "datum.value % 10 === 0", "value": 8}, "value": 3}, "tickWidth": {"condition": {"test": "datum.value % 10 === 0", "value": 1.5}, "value": 2.5}}}, "y": {"field": "g1", "type": "quantitative", "title": null, "scale": {"domain": [0, 1.1], "nice": false}, "axis": {"tickCount": 3, "format": ".1f", "title": null}}}},
 {"mark": {"type": "bar", "orient": "vertical", "width": 4, "color": "#b55752"}, "encoding": {"x": {"field": "r", "type": "quantitative", "title": null}, "y": {"field": "c1", "type": "quantitative", "title": null}}},
 {"data": {"name": "gaps"}, "mark": {"type": "point", "filled": true, "size": 22, "color": "#e38a0a", "opacity": 1}, "encoding": {"x": {"field": "r", "type": "quantitative", "title": null}, "y": {"datum": 0.025}}},
 {"data": {"values": [{}]}, "mark": {"type": "rule", "strokeWidth": 6.5, "strokeCap": "round", "color": "#2e8a2e"}, "encoding": {"x": {"datum": 3.2}, "y": {"datum": 0.865}, "y2": {"datum": 0.965}}},
 {"data": {"values": [{}]}, "mark": {"type": "text", "text": "GD-WT", "align": "left", "baseline": "middle", "fontSize": 31, "color": "black"}, "encoding": {"x": {"datum": 5.9}, "y": {"datum": 0.91}}},
 {"data": {"values": [{}]}, "mark": {"type": "rule", "strokeWidth": 6.5, "strokeCap": "round", "color": "#b55752"}, "encoding": {"x": {"datum": 3.2}, "y": {"datum": 0.555}, "y2": {"datum": 0.655}}},
 {"data": {"values": [{}]}, "mark": {"type": "text", "text": "73_34", "align": "left", "baseline": "middle", "fontSize": 31, "color": "black"}, "encoding": {"x": {"datum": 5.9}, "y": {"datum": 0.6}}}
]},
{"width": 535, "height": 155, "data": {"name": "d"}, "layer": [
 {"mark": {"type": "bar", "orient": "vertical", "width": 4, "color": "#2e8a2e"}, "encoding": {"x": {"field": "r", "type": "quantitative", "title": null, "scale": {"domain": [0, 111], "nice": false, "zero": false}, "axis": {"tickCount": 56, "labels": false, "title": null, "tickSize": {"condition": {"test": "datum.value % 10 === 0", "value": 8}, "value": 3}, "tickWidth": {"condition": {"test": "datum.value % 10 === 0", "value": 1.5}, "value": 2.5}}}, "y": {"field": "g", "type": "quantitative", "title": null, "scale": {"domain": [0, 1.1], "nice": false}, "axis": {"tickCount": 3, "labels": false, "title": null}}}},
 {"mark": {"type": "bar", "orient": "vertical", "width": 4, "color": "#b55752"}, "encoding": {"x": {"field": "r", "type": "quantitative", "title": null}, "y": {"field": "c2", "type": "quantitative", "title": null}}},
 {"data": {"name": "gaps"}, "mark": {"type": "point", "filled": true, "size": 22, "color": "#e38a0a", "opacity": 1}, "encoding": {"x": {"field": "r", "type": "quantitative", "title": null}, "y": {"datum": 0.025}}},
 {"data": {"values": [{}]}, "mark": {"type": "rule", "strokeWidth": 6.5, "strokeCap": "round", "color": "#2e8a2e"}, "encoding": {"x": {"datum": 3.2}, "y": {"datum": 0.865}, "y2": {"datum": 0.965}}},
 {"data": {"values": [{}]}, "mark": {"type": "text", "text": "GD-WT", "align": "left", "baseline": "middle", "fontSize": 31, "color": "black"}, "encoding": {"x": {"datum": 5.9}, "y": {"datum": 0.91}}},
 {"data": {"values": [{}]}, "mark": {"type": "rule", "strokeWidth": 6.5, "strokeCap": "round", "color": "#b55752"}, "encoding": {"x": {"datum": 3.2}, "y": {"datum": 0.555}, "y2": {"datum": 0.655}}},
 {"data": {"values": [{}]}, "mark": {"type": "text", "text": "74_34", "align": "left", "baseline": "middle", "fontSize": 31, "color": "black"}, "encoding": {"x": {"datum": 5.9}, "y": {"datum": 0.6}}}
]}
], "spacing": 25, "bounds": "flush"},
{"hconcat": [
{"width": 535, "height": 155, "data": {"name": "d"}, "layer": [
 {"mark": {"type": "bar", "orient": "vertical", "width": 4, "color": "#2e8a2e"}, "encoding": {"x": {"field": "r", "type": "quantitative", "title": null, "scale": {"domain": [0, 111], "nice": false, "zero": false}, "axis": {"tickCount": 56, "labels": false, "title": null, "tickSize": {"condition": {"test": "datum.value % 10 === 0", "value": 8}, "value": 3}, "tickWidth": {"condition": {"test": "datum.value % 10 === 0", "value": 1.5}, "value": 2.5}}}, "y": {"field": "g", "type": "quantitative", "title": null, "scale": {"domain": [0, 1.1], "nice": false}, "axis": {"tickCount": 3, "format": ".1f", "title": null}}}},
 {"mark": {"type": "bar", "orient": "vertical", "width": 4, "color": "#b55752"}, "encoding": {"x": {"field": "r", "type": "quantitative", "title": null}, "y": {"field": "c3", "type": "quantitative", "title": null}}},
 {"data": {"name": "gaps"}, "mark": {"type": "point", "filled": true, "size": 22, "color": "#e38a0a", "opacity": 1}, "encoding": {"x": {"field": "r", "type": "quantitative", "title": null}, "y": {"datum": 0.025}}},
 {"data": {"values": [{}]}, "mark": {"type": "rule", "strokeWidth": 6.5, "strokeCap": "round", "color": "#2e8a2e"}, "encoding": {"x": {"datum": 3.2}, "y": {"datum": 0.865}, "y2": {"datum": 0.965}}},
 {"data": {"values": [{}]}, "mark": {"type": "text", "text": "GD-WT", "align": "left", "baseline": "middle", "fontSize": 31, "color": "black"}, "encoding": {"x": {"datum": 5.9}, "y": {"datum": 0.91}}},
 {"data": {"values": [{}]}, "mark": {"type": "rule", "strokeWidth": 6.5, "strokeCap": "round", "color": "#b55752"}, "encoding": {"x": {"datum": 3.2}, "y": {"datum": 0.555}, "y2": {"datum": 0.655}}},
 {"data": {"values": [{}]}, "mark": {"type": "text", "text": "73_66", "align": "left", "baseline": "middle", "fontSize": 31, "color": "black"}, "encoding": {"x": {"datum": 5.9}, "y": {"datum": 0.6}}}
]},
{"width": 535, "height": 155, "data": {"name": "d"}, "layer": [
 {"mark": {"type": "bar", "orient": "vertical", "width": 4, "color": "#2e8a2e"}, "encoding": {"x": {"field": "r", "type": "quantitative", "title": null, "scale": {"domain": [0, 111], "nice": false, "zero": false}, "axis": {"tickCount": 56, "labels": false, "title": null, "tickSize": {"condition": {"test": "datum.value % 10 === 0", "value": 8}, "value": 3}, "tickWidth": {"condition": {"test": "datum.value % 10 === 0", "value": 1.5}, "value": 2.5}}}, "y": {"field": "g", "type": "quantitative", "title": null, "scale": {"domain": [0, 1.1], "nice": false}, "axis": {"tickCount": 3, "labels": false, "title": null}}}},
 {"mark": {"type": "bar", "orient": "vertical", "width": 4, "color": "#b55752"}, "encoding": {"x": {"field": "r", "type": "quantitative", "title": null}, "y": {"field": "c4", "type": "quantitative", "title": null}}},
 {"data": {"name": "gaps"}, "mark": {"type": "point", "filled": true, "size": 22, "color": "#e38a0a", "opacity": 1}, "encoding": {"x": {"field": "r", "type": "quantitative", "title": null}, "y": {"datum": 0.025}}},
 {"data": {"values": [{}]}, "mark": {"type": "rule", "strokeWidth": 6.5, "strokeCap": "round", "color": "#2e8a2e"}, "encoding": {"x": {"datum": 3.2}, "y": {"datum": 0.865}, "y2": {"datum": 0.965}}},
 {"data": {"values": [{}]}, "mark": {"type": "text", "text": "GD-WT", "align": "left", "baseline": "middle", "fontSize": 31, "color": "black"}, "encoding": {"x": {"datum": 5.9}, "y": {"datum": 0.91}}},
 {"data": {"values": [{}]}, "mark": {"type": "rule", "strokeWidth": 6.5, "strokeCap": "round", "color": "#b55752"}, "encoding": {"x": {"datum": 3.2}, "y": {"datum": 0.555}, "y2": {"datum": 0.655}}},
 {"data": {"values": [{}]}, "mark": {"type": "text", "text": "74_67", "align": "left", "baseline": "middle", "fontSize": 31, "color": "black"}, "encoding": {"x": {"datum": 5.9}, "y": {"datum": 0.6}}}
]}
], "spacing": 25, "bounds": "flush"},
{"hconcat": [
{"width": 535, "height": 155, "data": {"name": "d"}, "layer": [
 {"mark": {"type": "bar", "orient": "vertical", "width": 4, "color": "#b55752"}, "encoding": {"x": {"field": "r", "type": "quantitative", "title": null, "scale": {"domain": [0, 111], "nice": false, "zero": false}, "axis": {"tickCount": 56, "labels": false, "title": null, "tickSize": {"condition": {"test": "datum.value % 10 === 0", "value": 8}, "value": 3}, "tickWidth": {"condition": {"test": "datum.value % 10 === 0", "value": 1.5}, "value": 2.5}}}, "y": {"field": "c5", "type": "quantitative", "title": null, "scale": {"domain": [0, 1.1], "nice": false}, "axis": {"tickCount": 3, "format": ".1f", "title": null}}}},
 {"mark": {"type": "bar", "orient": "vertical", "width": 4, "color": "#2e8a2e"}, "encoding": {"x": {"field": "r", "type": "quantitative", "title": null}, "y": {"field": "g", "type": "quantitative", "title": null}}},
 {"data": {"name": "gaps"}, "mark": {"type": "point", "filled": true, "size": 22, "color": "#e38a0a", "opacity": 1}, "encoding": {"x": {"field": "r", "type": "quantitative", "title": null}, "y": {"datum": 0.025}}},
 {"data": {"values": [{}]}, "mark": {"type": "rule", "strokeWidth": 6.5, "strokeCap": "round", "color": "#2e8a2e"}, "encoding": {"x": {"datum": 3.2}, "y": {"datum": 0.865}, "y2": {"datum": 0.965}}},
 {"data": {"values": [{}]}, "mark": {"type": "text", "text": "GD-WT", "align": "left", "baseline": "middle", "fontSize": 31, "color": "black"}, "encoding": {"x": {"datum": 5.9}, "y": {"datum": 0.91}}},
 {"data": {"values": [{}]}, "mark": {"type": "rule", "strokeWidth": 6.5, "strokeCap": "round", "color": "#b55752"}, "encoding": {"x": {"datum": 3.2}, "y": {"datum": 0.555}, "y2": {"datum": 0.655}}},
 {"data": {"values": [{}]}, "mark": {"type": "text", "text": "73_70", "align": "left", "baseline": "middle", "fontSize": 31, "color": "black"}, "encoding": {"x": {"datum": 5.9}, "y": {"datum": 0.6}}}
]},
{"width": 535, "height": 155, "data": {"name": "d"}, "layer": [
 {"mark": {"type": "bar", "orient": "vertical", "width": 4, "color": "#b55752"}, "encoding": {"x": {"field": "r", "type": "quantitative", "title": null, "scale": {"domain": [0, 111], "nice": false, "zero": false}, "axis": {"tickCount": 56, "labels": false, "title": null, "tickSize": {"condition": {"test": "datum.value % 10 === 0", "value": 8}, "value": 3}, "tickWidth": {"condition": {"test": "datum.value % 10 === 0", "value": 1.5}, "value": 2.5}}}, "y": {"field": "c6", "type": "quantitative", "title": null, "scale": {"domain": [0, 1.1], "nice": false}, "axis": {"tickCount": 3, "labels": false, "title": null}}}},
 {"mark": {"type": "bar", "orient": "vertical", "width": 4, "color": "#2e8a2e"}, "encoding": {"x": {"field": "r", "type": "quantitative", "title": null}, "y": {"field": "g6", "type": "quantitative", "title": null}}},
 {"data": {"name": "gaps"}, "mark": {"type": "point", "filled": true, "size": 22, "color": "#e38a0a", "opacity": 1}, "encoding": {"x": {"field": "r", "type": "quantitative", "title": null}, "y": {"datum": 0.025}}},
 {"data": {"values": [{}]}, "mark": {"type": "rule", "strokeWidth": 6.5, "strokeCap": "round", "color": "#2e8a2e"}, "encoding": {"x": {"datum": 3.2}, "y": {"datum": 0.865}, "y2": {"datum": 0.965}}},
 {"data": {"values": [{}]}, "mark": {"type": "text", "text": "GD-WT", "align": "left", "baseline": "middle", "fontSize": 31, "color": "black"}, "encoding": {"x": {"datum": 5.9}, "y": {"datum": 0.91}}},
 {"data": {"values": [{}]}, "mark": {"type": "rule", "strokeWidth": 6.5, "strokeCap": "round", "color": "#b55752"}, "encoding": {"x": {"datum": 3.2}, "y": {"datum": 0.555}, "y2": {"datum": 0.655}}},
 {"data": {"values": [{}]}, "mark": {"type": "text", "text": "74_70", "align": "left", "baseline": "middle", "fontSize": 31, "color": "black"}, "encoding": {"x": {"datum": 5.9}, "y": {"datum": 0.6}}}
]}
], "spacing": 25, "bounds": "flush"},
{"hconcat": [
{"width": 535, "height": 155, "data": {"name": "d"}, "layer": [
 {"mark": {"type": "bar", "orient": "vertical", "width": 4, "color": "#b55752"}, "encoding": {"x": {"field": "r", "type": "quantitative", "title": null, "scale": {"domain": [0, 111], "nice": false, "zero": false}, "axis": {"tickCount": 56, "labels": false, "title": null, "tickSize": {"condition": {"test": "datum.value % 10 === 0", "value": 8}, "value": 3}, "tickWidth": {"condition": {"test": "datum.value % 10 === 0", "value": 1.5}, "value": 2.5}}}, "y": {"field": "c7", "type": "quantitative", "title": null, "scale": {"domain": [0, 1.1], "nice": false}, "axis": {"tickCount": 3, "format": ".1f", "title": null}}}},
 {"mark": {"type": "bar", "orient": "vertical", "width": 4, "color": "#2e8a2e"}, "encoding": {"x": {"field": "r", "type": "quantitative", "title": null}, "y": {"field": "g", "type": "quantitative", "title": null}}},
 {"data": {"name": "gaps"}, "mark": {"type": "point", "filled": true, "size": 22, "color": "#e38a0a", "opacity": 1}, "encoding": {"x": {"field": "r", "type": "quantitative", "title": null}, "y": {"datum": 0.025}}},
 {"data": {"values": [{}]}, "mark": {"type": "rule", "strokeWidth": 6.5, "strokeCap": "round", "color": "#2e8a2e"}, "encoding": {"x": {"datum": 3.2}, "y": {"datum": 0.865}, "y2": {"datum": 0.965}}},
 {"data": {"values": [{}]}, "mark": {"type": "text", "text": "GD-WT", "align": "left", "baseline": "middle", "fontSize": 31, "color": "black"}, "encoding": {"x": {"datum": 5.9}, "y": {"datum": 0.91}}},
 {"data": {"values": [{}]}, "mark": {"type": "rule", "strokeWidth": 6.5, "strokeCap": "round", "color": "#b55752"}, "encoding": {"x": {"datum": 3.2}, "y": {"datum": 0.555}, "y2": {"datum": 0.655}}},
 {"data": {"values": [{}]}, "mark": {"type": "text", "text": "82_78", "align": "left", "baseline": "middle", "fontSize": 31, "color": "black"}, "encoding": {"x": {"datum": 5.9}, "y": {"datum": 0.6}}}
]},
{"width": 535, "height": 155, "data": {"name": "d"}, "layer": [
 {"mark": {"type": "bar", "orient": "vertical", "width": 4, "color": "#2e8a2e"}, "encoding": {"x": {"field": "r", "type": "quantitative", "title": null, "scale": {"domain": [0, 111], "nice": false, "zero": false}, "axis": {"tickCount": 56, "labels": false, "title": null, "tickSize": {"condition": {"test": "datum.value % 10 === 0", "value": 8}, "value": 3}, "tickWidth": {"condition": {"test": "datum.value % 10 === 0", "value": 1.5}, "value": 2.5}}}, "y": {"field": "g8", "type": "quantitative", "title": null, "scale": {"domain": [0, 1.1], "nice": false}, "axis": {"tickCount": 3, "labels": false, "title": null}}}},
 {"mark": {"type": "bar", "orient": "vertical", "width": 4, "color": "#b55752"}, "encoding": {"x": {"field": "r", "type": "quantitative", "title": null}, "y": {"field": "c8", "type": "quantitative", "title": null}}},
 {"data": {"name": "gaps"}, "mark": {"type": "point", "filled": true, "size": 22, "color": "#e38a0a", "opacity": 1}, "encoding": {"x": {"field": "r", "type": "quantitative", "title": null}, "y": {"datum": 0.025}}},
 {"data": {"values": [{}]}, "mark": {"type": "rule", "strokeWidth": 6.5, "strokeCap": "round", "color": "#2e8a2e"}, "encoding": {"x": {"datum": 3.2}, "y": {"datum": 0.865}, "y2": {"datum": 0.965}}},
 {"data": {"values": [{}]}, "mark": {"type": "text", "text": "GD-WT", "align": "left", "baseline": "middle", "fontSize": 31, "color": "black"}, "encoding": {"x": {"datum": 5.9}, "y": {"datum": 0.91}}},
 {"data": {"values": [{}]}, "mark": {"type": "rule", "strokeWidth": 6.5, "strokeCap": "round", "color": "#b55752"}, "encoding": {"x": {"datum": 3.2}, "y": {"datum": 0.555}, "y2": {"datum": 0.655}}},
 {"data": {"values": [{}]}, "mark": {"type": "text", "text": "2S1", "align": "left", "baseline": "middle", "fontSize": 31, "color": "black"}, "encoding": {"x": {"datum": 5.9}, "y": {"datum": 0.6}}}
]}
], "spacing": 25, "bounds": "flush"},
{"hconcat": [
{"width": 535, "height": 155, "data": {"name": "d"}, "layer": [
 {"mark": {"type": "bar", "orient": "vertical", "width": 4, "color": "#2e8a2e"}, "encoding": {"x": {"field": "r", "type": "quantitative", "title": null, "scale": {"domain": [0, 111], "nice": false, "zero": false}, "axis": {"tickCount": 56, "labels": false, "title": null, "tickSize": {"condition": {"test": "datum.value % 10 === 0", "value": 8}, "value": 3}, "tickWidth": {"condition": {"test": "datum.value % 10 === 0", "value": 1.5}, "value": 2.5}}}, "y": {"field": "g9", "type": "quantitative", "title": null, "scale": {"domain": [0, 1.1], "nice": false}, "axis": {"tickCount": 3, "format": ".1f", "title": null}}}},
 {"mark": {"type": "bar", "orient": "vertical", "width": 4, "color": "#b55752"}, "encoding": {"x": {"field": "r", "type": "quantitative", "title": null}, "y": {"field": "c9", "type": "quantitative", "title": null}}},
 {"data": {"name": "gaps"}, "mark": {"type": "point", "filled": true, "size": 22, "color": "#e38a0a", "opacity": 1}, "encoding": {"x": {"field": "r", "type": "quantitative", "title": null}, "y": {"datum": 0.025}}},
 {"data": {"values": [{}]}, "mark": {"type": "rule", "strokeWidth": 6.5, "strokeCap": "round", "color": "#2e8a2e"}, "encoding": {"x": {"datum": 3.2}, "y": {"datum": 0.865}, "y2": {"datum": 0.965}}},
 {"data": {"values": [{}]}, "mark": {"type": "text", "text": "GD-WT", "align": "left", "baseline": "middle", "fontSize": 31, "color": "black"}, "encoding": {"x": {"datum": 5.9}, "y": {"datum": 0.91}}},
 {"data": {"values": [{}]}, "mark": {"type": "rule", "strokeWidth": 6.5, "strokeCap": "round", "color": "#b55752"}, "encoding": {"x": {"datum": 3.2}, "y": {"datum": 0.555}, "y2": {"datum": 0.655}}},
 {"data": {"values": [{}]}, "mark": {"type": "text", "text": "85_90", "align": "left", "baseline": "middle", "fontSize": 31, "color": "black"}, "encoding": {"x": {"datum": 5.9}, "y": {"datum": 0.6}}}
]},
{"width": 535, "height": 155, "data": {"name": "d"}, "layer": [
 {"mark": {"type": "bar", "orient": "vertical", "width": 4, "color": "#b55752"}, "encoding": {"x": {"field": "r", "type": "quantitative", "title": null, "scale": {"domain": [0, 111], "nice": false, "zero": false}, "axis": {"tickCount": 56, "labels": false, "title": null, "tickSize": {"condition": {"test": "datum.value % 10 === 0", "value": 8}, "value": 3}, "tickWidth": {"condition": {"test": "datum.value % 10 === 0", "value": 1.5}, "value": 2.5}}}, "y": {"field": "c10", "type": "quantitative", "title": null, "scale": {"domain": [0, 1.1], "nice": false}, "axis": {"tickCount": 3, "labels": false, "title": null}}}},
 {"mark": {"type": "bar", "orient": "vertical", "width": 4, "color": "#2e8a2e"}, "encoding": {"x": {"field": "r", "type": "quantitative", "title": null}, "y": {"field": "g", "type": "quantitative", "title": null}}},
 {"data": {"name": "gaps"}, "mark": {"type": "point", "filled": true, "size": 22, "color": "#e38a0a", "opacity": 1}, "encoding": {"x": {"field": "r", "type": "quantitative", "title": null}, "y": {"datum": 0.025}}},
 {"data": {"values": [{}]}, "mark": {"type": "rule", "strokeWidth": 6.5, "strokeCap": "round", "color": "#2e8a2e"}, "encoding": {"x": {"datum": 3.2}, "y": {"datum": 0.865}, "y2": {"datum": 0.965}}},
 {"data": {"values": [{}]}, "mark": {"type": "text", "text": "GD-WT", "align": "left", "baseline": "middle", "fontSize": 31, "color": "black"}, "encoding": {"x": {"datum": 5.9}, "y": {"datum": 0.91}}},
 {"data": {"values": [{}]}, "mark": {"type": "rule", "strokeWidth": 6.5, "strokeCap": "round", "color": "#b55752"}, "encoding": {"x": {"datum": 3.2}, "y": {"datum": 0.555}, "y2": {"datum": 0.655}}},
 {"data": {"values": [{}]}, "mark": {"type": "text", "text": "2S2", "align": "left", "baseline": "middle", "fontSize": 31, "color": "black"}, "encoding": {"x": {"datum": 5.9}, "y": {"datum": 0.6}}}
]}
], "spacing": 25, "bounds": "flush"},
{"hconcat": [
{"width": 535, "height": 155, "data": {"name": "d"}, "layer": [
 {"mark": {"type": "bar", "orient": "vertical", "width": 4, "color": "#b55752"}, "encoding": {"x": {"field": "r", "type": "quantitative", "title": "Residue no.", "scale": {"domain": [0, 111], "nice": false, "zero": false}, "axis": {"tickCount": 56, "labels": true, "labelExpr": "datum.value % 20 === 10 ? datum.label : ''", "title": "Residue no.", "tickSize": {"condition": {"test": "datum.value % 10 === 0", "value": 8}, "value": 3}, "tickWidth": {"condition": {"test": "datum.value % 10 === 0", "value": 1.5}, "value": 2.5}}}, "y": {"field": "c11", "type": "quantitative", "title": null, "scale": {"domain": [0, 1.1], "nice": false}, "axis": {"tickCount": 3, "format": ".1f", "title": null}}}},
 {"mark": {"type": "bar", "orient": "vertical", "width": 4, "color": "#2e8a2e"}, "encoding": {"x": {"field": "r", "type": "quantitative", "title": "Residue no."}, "y": {"field": "g11", "type": "quantitative", "title": null}}},
 {"data": {"name": "gaps"}, "mark": {"type": "point", "filled": true, "size": 22, "color": "#e38a0a", "opacity": 1}, "encoding": {"x": {"field": "r", "type": "quantitative", "title": "Residue no."}, "y": {"datum": 0.025}}},
 {"data": {"values": [{}]}, "mark": {"type": "rule", "strokeWidth": 6.5, "strokeCap": "round", "color": "#2e8a2e"}, "encoding": {"x": {"datum": 3.2}, "y": {"datum": 0.865}, "y2": {"datum": 0.965}}},
 {"data": {"values": [{}]}, "mark": {"type": "text", "text": "GD-WT", "align": "left", "baseline": "middle", "fontSize": 31, "color": "black"}, "encoding": {"x": {"datum": 5.9}, "y": {"datum": 0.91}}},
 {"data": {"values": [{}]}, "mark": {"type": "rule", "strokeWidth": 6.5, "strokeCap": "round", "color": "#b55752"}, "encoding": {"x": {"datum": 3.2}, "y": {"datum": 0.555}, "y2": {"datum": 0.655}}},
 {"data": {"values": [{}]}, "mark": {"type": "text", "text": "94_90", "align": "left", "baseline": "middle", "fontSize": 31, "color": "black"}, "encoding": {"x": {"datum": 5.9}, "y": {"datum": 0.6}}}
]},
{"width": 535, "height": 155, "data": {"name": "d"}, "layer": [
 {"mark": {"type": "bar", "orient": "vertical", "width": 4, "color": "#b55752"}, "encoding": {"x": {"field": "r", "type": "quantitative", "title": "Residue no.", "scale": {"domain": [0, 111], "nice": false, "zero": false}, "axis": {"tickCount": 56, "labels": true, "labelExpr": "datum.value % 20 === 10 ? datum.label : ''", "title": "Residue no.", "tickSize": {"condition": {"test": "datum.value % 10 === 0", "value": 8}, "value": 3}, "tickWidth": {"condition": {"test": "datum.value % 10 === 0", "value": 1.5}, "value": 2.5}}}, "y": {"field": "c12", "type": "quantitative", "title": null, "scale": {"domain": [0, 1.1], "nice": false}, "axis": {"tickCount": 3, "labels": false, "title": null}}}},
 {"mark": {"type": "bar", "orient": "vertical", "width": 4, "color": "#2e8a2e"}, "encoding": {"x": {"field": "r", "type": "quantitative", "title": "Residue no."}, "y": {"field": "g", "type": "quantitative", "title": null}}},
 {"data": {"name": "gaps"}, "mark": {"type": "point", "filled": true, "size": 22, "color": "#e38a0a", "opacity": 1}, "encoding": {"x": {"field": "r", "type": "quantitative", "title": "Residue no."}, "y": {"datum": 0.025}}},
 {"data": {"values": [{}]}, "mark": {"type": "rule", "strokeWidth": 6.5, "strokeCap": "round", "color": "#2e8a2e"}, "encoding": {"x": {"datum": 3.2}, "y": {"datum": 0.865}, "y2": {"datum": 0.965}}},
 {"data": {"values": [{}]}, "mark": {"type": "text", "text": "GD-WT", "align": "left", "baseline": "middle", "fontSize": 31, "color": "black"}, "encoding": {"x": {"datum": 5.9}, "y": {"datum": 0.91}}},
 {"data": {"values": [{}]}, "mark": {"type": "rule", "strokeWidth": 6.5, "strokeCap": "round", "color": "#b55752"}, "encoding": {"x": {"datum": 3.2}, "y": {"datum": 0.555}, "y2": {"datum": 0.655}}},
 {"data": {"values": [{}]}, "mark": {"type": "text", "text": "2S3", "align": "left", "baseline": "middle", "fontSize": 31, "color": "black"}, "encoding": {"x": {"datum": 5.9}, "y": {"datum": 0.6}}}
]}
], "spacing": 25, "bounds": "flush"}
],
"config": {
 "font": "Liberation Sans",
 "view": {"stroke": "black", "strokeWidth": 1.5},
 "text": {"font": "Liberation Sans"},
 "axis": {"labelFont": "Liberation Sans", "labelFontSize": 33, "labelColor": "#1a1a1a", "titleFont": "Liberation Sans", "titleFontSize": 34, "titleFontWeight": "normal", "titleColor": "#1a1a1a", "tickColor": "black", "domainColor": "black", "domainWidth": 1.5, "grid": false},
 "axisY": {"tickSize": 12, "tickWidth": 1.5, "labelPadding": 8, "labelFontSize": 35},
 "axisX": {"labelPadding": 14, "titlePadding": 6, "labelFlush": false, "labelOverlap": false}
}
}
